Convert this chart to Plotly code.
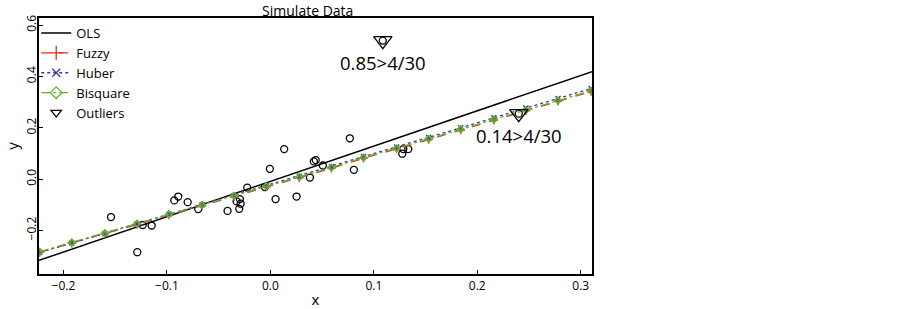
import plotly.graph_objects as go

# ---- data ----
line_x = [-0.223, -0.192, -0.160, -0.129, -0.098, -0.066, -0.035, -0.004, 0.028,
          0.059, 0.090, 0.122, 0.153, 0.184, 0.216, 0.247, 0.278, 0.310]
fuzzy_y = [-0.286, -0.250, -0.214, -0.177, -0.140, -0.104, -0.068, -0.031, 0.005,
           0.042, 0.081, 0.117, 0.154, 0.191, 0.229, 0.266, 0.303, 0.341]
huber_y = [-0.286, -0.249, -0.213, -0.175, -0.137, -0.100, -0.064, -0.026, 0.011,
           0.048, 0.088, 0.125, 0.162, 0.200, 0.239, 0.277, 0.314, 0.353]
bisquare_y = [-0.283, -0.247, -0.211, -0.174, -0.137, -0.101, -0.065, -0.028, 0.008,
              0.045, 0.084, 0.120, 0.157, 0.194, 0.232, 0.269, 0.306, 0.344]
ols_x = [-0.2237, 0.3109]
ols_y = [-0.317, 0.419]

data_x = [-0.1541, -0.1287, -0.1235, -0.1148, -0.0929, -0.0891, -0.0800, -0.0698,
          -0.0414, -0.0327, -0.0295, -0.0288, -0.0301, -0.0224, -0.0053, -0.0005,
          0.0050, 0.0133, 0.0253, 0.0382, 0.0420, 0.0438, 0.0507, 0.0768, 0.0807,
          0.1285, 0.1275, 0.1333, 0.1087, 0.2401]
data_y = [-0.148, -0.285, -0.179, -0.181, -0.083, -0.068, -0.090, -0.117,
          -0.124, -0.087, -0.078, -0.096, -0.116, -0.033, -0.031, 0.040,
          -0.078, 0.117, -0.068, 0.006, 0.069, 0.074, 0.053, 0.159, 0.036,
          0.117, 0.099, 0.117, 0.540, 0.255]

outlier_x = [0.1087, 0.2401]
outlier_y = [0.540, 0.255]
outlier_labels = ["0.85>4/30", "0.14>4/30"]

x_tickvals = [-0.2, -0.1, 0.0, 0.1, 0.2, 0.3]
x_ticktext = ["\u22120.2", "\u22120.1", "0.0", "0.1", "0.2", "0.3"]
y_tickvals = [-0.2, 0.0, 0.2, 0.4, 0.6]
y_ticktext = ["\u22120.2", "0.0", "0.2", "0.4", "0.6"]

FONT = "Open Sans"
RED = "#f02a1e"
BLUE = "#3a3aa6"
GREEN = "#62b22f"

fig = go.Figure()

# data points
fig.add_trace(go.Scatter(x=data_x, y=data_y, mode="markers", showlegend=False,
                         marker=dict(symbol="circle-open", size=7, color="black",
                                     line=dict(width=1.3, color="black"))))
# OLS
fig.add_trace(go.Scatter(x=ols_x, y=ols_y, mode="lines", name="OLS",
                         line=dict(color="black", width=1.5)))
# Fuzzy
fig.add_trace(go.Scatter(x=line_x, y=fuzzy_y, mode="lines+markers", name="Fuzzy",
                         showlegend=False, legendgroup="f",
                         line=dict(color=RED, width=1.3, dash="dash"),
                         marker=dict(symbol="cross-thin-open", size=6,
                                     line=dict(width=1.4, color=RED))))
# Huber
fig.add_trace(go.Scatter(x=line_x, y=huber_y, mode="lines+markers", name="Huber",
                         showlegend=False, legendgroup="h",
                         line=dict(color=BLUE, width=1.3, dash="dot"),
                         marker=dict(symbol="x-thin-open", size=5,
                                     line=dict(width=1.4, color=BLUE))))
# Bisquare
fig.add_trace(go.Scatter(x=line_x, y=bisquare_y, mode="lines+markers", name="Bisquare",
                         showlegend=False, legendgroup="b",
                         line=dict(color=GREEN, width=1.3, dash="dashdot"),
                         marker=dict(symbol="diamond-open", size=5,
                                     line=dict(width=1.6, color=GREEN))))
# Outliers
fig.add_trace(go.Scatter(x=outlier_x, y=outlier_y, mode="markers", name="Outliers",
                         showlegend=False, legendgroup="o",
                         marker=dict(symbol="triangle-down-open", size=16, color="black",
                                     line=dict(width=1.3, color="black"))))

# legend entries (larger symbols as in the reference legend)
fig.add_trace(go.Scatter(x=[None], y=[None], mode="lines+markers", name="Fuzzy",
                         legendgroup="f",
                         line=dict(color=RED, width=1.3, dash="dash"),
                         marker=dict(symbol="cross-thin-open", size=10,
                                     line=dict(width=1.3, color=RED))))
fig.add_trace(go.Scatter(x=[None], y=[None], mode="lines+markers", name="Huber",
                         legendgroup="h",
                         line=dict(color=BLUE, width=1.3, dash="dot"),
                         marker=dict(symbol="x-thin-open", size=8,
                                     line=dict(width=1.3, color=BLUE))))
fig.add_trace(go.Scatter(x=[None], y=[None], mode="lines+markers", name="Bisquare",
                         legendgroup="b",
                         line=dict(color=GREEN, width=1.3, dash="dashdot"),
                         marker=dict(symbol="diamond-open", size=9,
                                     line=dict(width=1.3, color=GREEN))))
fig.add_trace(go.Scatter(x=[None], y=[None], mode="markers", name="Outliers",
                         legendgroup="o",
                         marker=dict(symbol="triangle-down-open", size=9, color="black",
                                     line=dict(width=1.3, color="black"))))

for xv, yv, txt in zip(outlier_x, outlier_y, outlier_labels):
    fig.add_annotation(x=xv, y=yv, text=txt, showarrow=False, xanchor="center",
                       yanchor="middle", yshift=-21.5,
                       font=dict(family=FONT, size=18.5, color="black"))

axis_common = dict(showline=True, linecolor="black", linewidth=1.5, mirror=True,
                   ticks="inside", ticklen=4, tickwidth=1, tickcolor="black",
                   showgrid=False, zeroline=False, automargin=False,
                   tickfont=dict(family=FONT, size=12, color="black"))

fig.update_layout(
    width=902, height=309,
    margin=dict(l=39, r=310, t=18, b=35),
    paper_bgcolor="white", plot_bgcolor="white",
    font=dict(family=FONT, color="black"),
    title=dict(text="Simulate Data", x=0.486, xref="paper", xanchor="center",
               y=1, yref="paper", yanchor="bottom", pad=dict(b=2, t=0),
               font=dict(family=FONT, size=14, color="black")),
    xaxis=dict(range=[-0.2237, 0.3109], tickvals=x_tickvals, ticktext=x_ticktext,
               title=dict(text="x", standoff=2, font=dict(family=FONT, size=15)),
               **axis_common),
    yaxis=dict(range=[-0.37, 0.628], tickvals=y_tickvals, ticktext=y_ticktext,
               tickangle=-90, ticklabelstandoff=-4,
               title=dict(text="y", standoff=1, font=dict(family=FONT, size=15)),
               **axis_common),
    legend=dict(x=-0.005, y=1, xanchor="left", yanchor="top",
                bgcolor="rgba(0,0,0,0)", borderwidth=0,
                font=dict(family=FONT, size=13, color="black"),
                tracegroupgap=0),
)

# remove the browser's default 8 px body margin so the figure fills the window
fig.write_html("out.html",
               config={"displayModeBar": False},
               post_script="document.body.style.margin='0';"
                           "document.body.style.overflow='hidden';")
